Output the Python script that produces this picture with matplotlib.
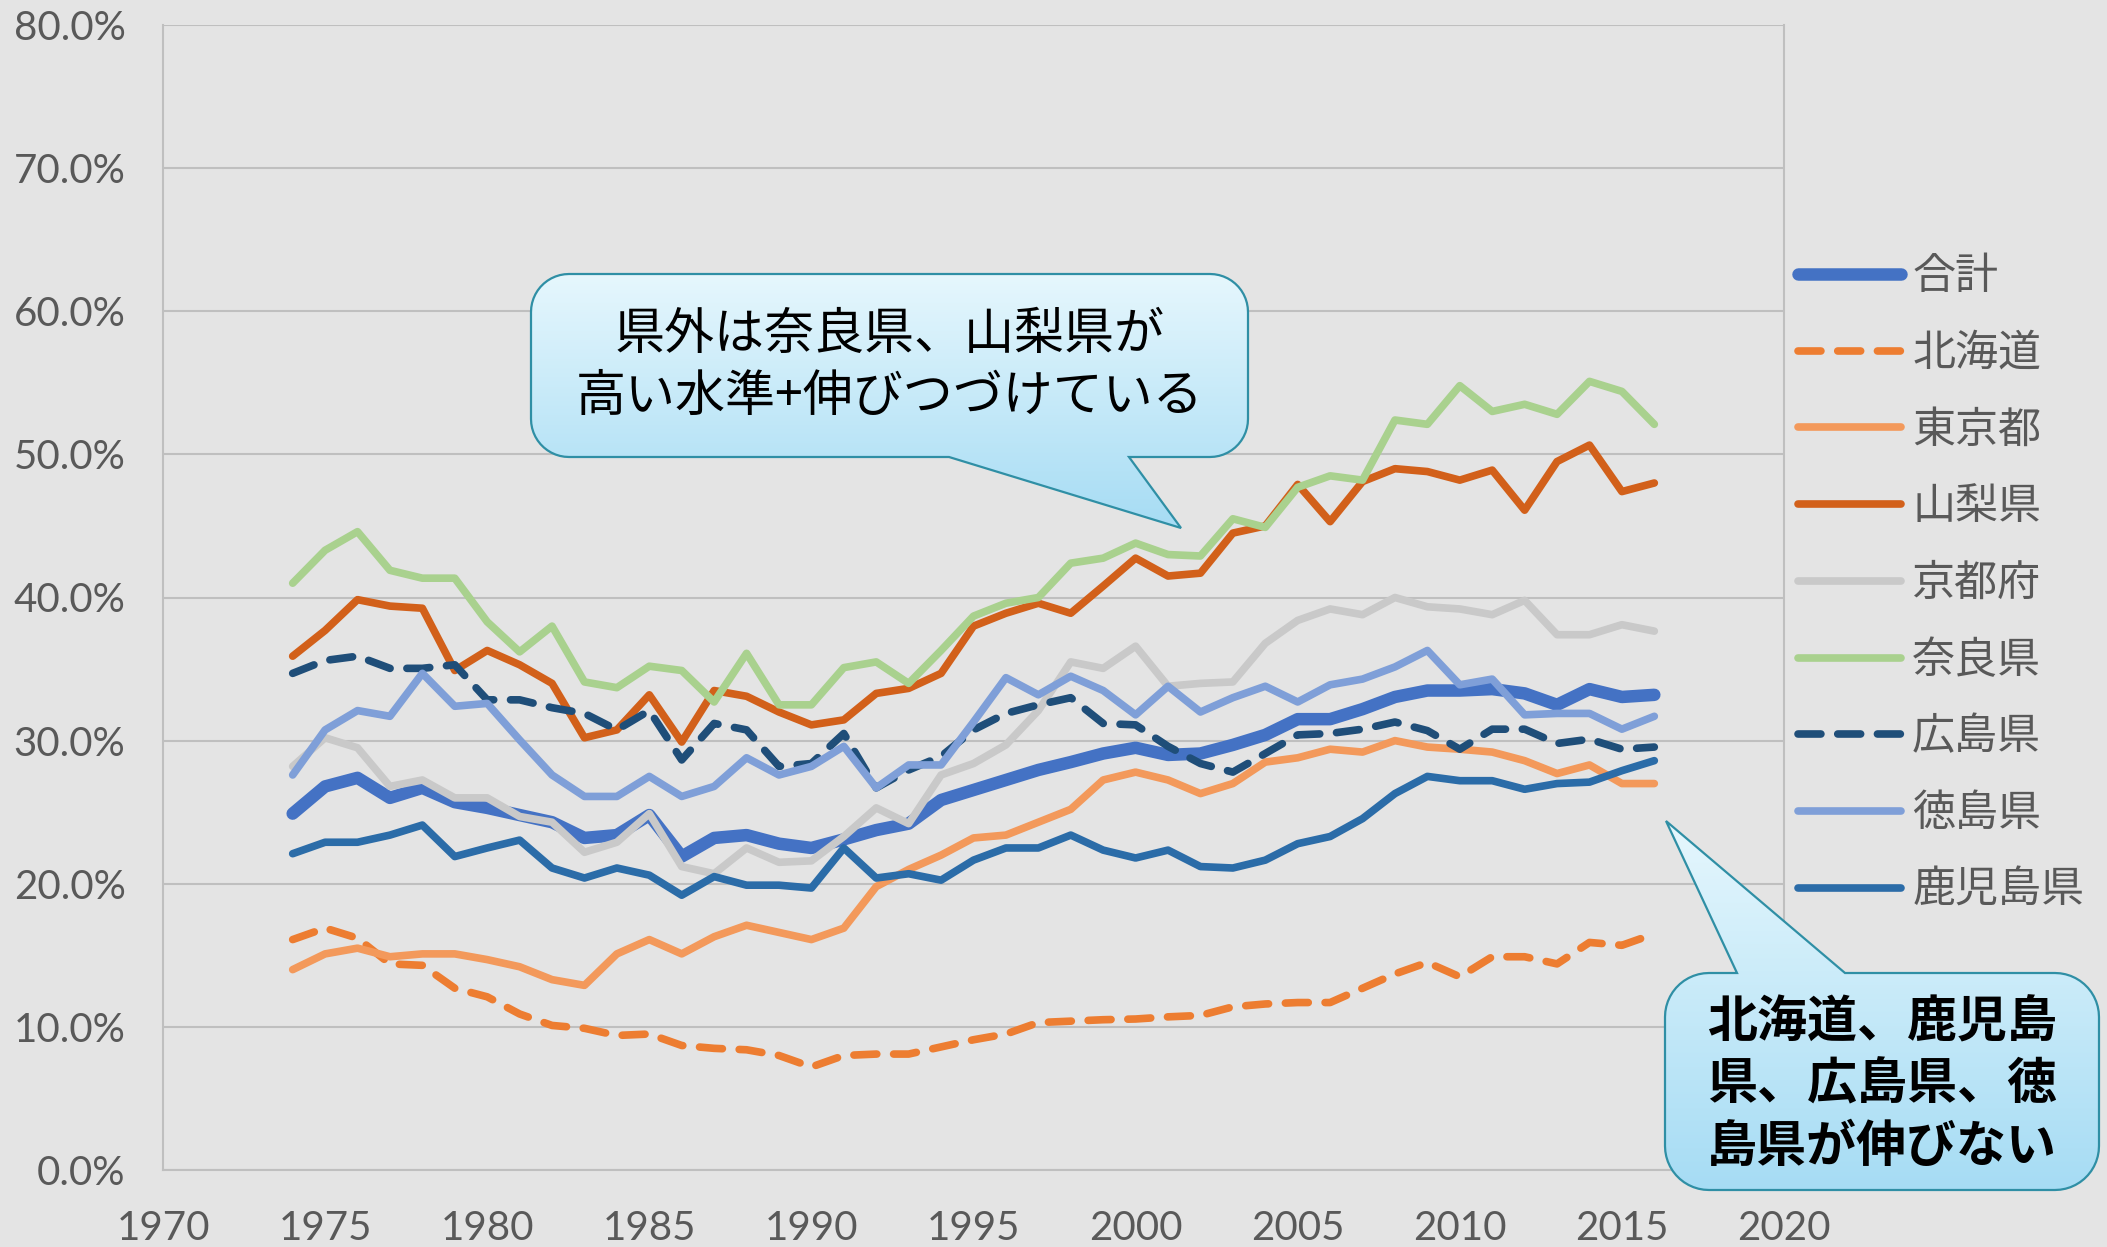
import numpy as np
import matplotlib
matplotlib.use("Agg")
import matplotlib.pyplot as plt
from matplotlib.patches import Polygon
from matplotlib.colors import LinearSegmentedColormap
from matplotlib.ticker import MultipleLocator, FuncFormatter

plt.rcParams['font.family'] = ['Lato', 'Noto Sans CJK JP', 'DejaVu Sans']

# ---- data (share, %) 1974-2016 ----
years = list(range(1974, 2017))

total = [24.9, 26.8, 27.4, 26.0, 26.7, 25.7, 25.3, 24.8, 24.3, 23.2, 23.4, 24.8, 21.9, 23.2, 23.4, 22.8, 22.5,
         23.1, 23.75, 24.2, 25.85, 26.55, 27.25, 27.95, 28.5, 29.1, 29.5, 29.0, 29.1, 29.7, 30.4,
         31.5, 31.5, 32.2, 33.05, 33.5, 33.5, 33.6, 33.3, 32.5, 33.6, 33.05, 33.2]
hokkaido = [16.1, 16.9, 16.2, 14.4, 14.3, 12.7, 12.1, 10.9, 10.1, 9.9, 9.4, 9.5, 8.7, 8.5, 8.4, 8.0, 7.2,
            8.0, 8.1, 8.1, 8.6, 9.1, 9.5, 10.3, 10.4, 10.5, 10.55, 10.7, 10.8, 11.4, 11.6,
            11.7, 11.7, 12.7, 13.7, 14.5, 13.5, 14.9, 14.9, 14.4, 15.9, 15.7, 16.5]
tokyo = [14.0, 15.1, 15.5, 14.9, 15.1, 15.1, 14.7, 14.2, 13.3, 12.9, 15.1, 16.1, 15.1, 16.3, 17.1, 16.6, 16.1,
         16.9, 19.8, 21.0, 22.0, 23.2, 23.4, 24.3, 25.2, 27.25, 27.8, 27.25, 26.3, 27.0, 28.5,
         28.8, 29.4, 29.2, 30.0, 29.55, 29.4, 29.2, 28.6, 27.7, 28.3, 27.0, 27.0]
yamanashi = [35.9, 37.7, 39.85, 39.4, 39.25, 34.9, 36.3, 35.3, 34.0, 30.2, 30.75, 33.2, 29.9, 33.5, 33.1, 32.0, 31.1,
             31.45, 33.3, 33.65, 34.7, 38.0, 38.9, 39.6, 38.9, 40.8, 42.75, 41.5, 41.7, 44.5, 45.0,
             47.9, 45.3, 48.1, 49.0, 48.8, 48.2, 48.9, 46.1, 49.5, 50.65, 47.4, 48.0]
kyoto = [28.2, 30.2, 29.5, 26.8, 27.25, 26.0, 26.0, 24.7, 24.3, 22.2, 22.9, 24.9, 21.2, 20.7, 22.5, 21.5, 21.6,
         23.3, 25.3, 24.2, 27.6, 28.4, 29.7, 32.1, 35.5, 35.05, 36.6, 33.8, 34.0, 34.1, 36.8,
         38.4, 39.2, 38.8, 40.0, 39.35, 39.2, 38.8, 39.8, 37.4, 37.4, 38.1, 37.65]
nara = [41.0, 43.3, 44.6, 41.9, 41.35, 41.35, 38.3, 36.2, 38.0, 34.1, 33.7, 35.2, 34.9, 32.7, 36.1, 32.5, 32.5,
        35.1, 35.5, 34.0, 36.3, 38.7, 39.6, 40.0, 42.4, 42.75, 43.8, 43.0, 42.9, 45.5, 44.9,
        47.7, 48.5, 48.2, 52.4, 52.1, 54.8, 53.0, 53.5, 52.8, 55.1, 54.4, 52.1]
hiroshima = [34.7, 35.6, 35.9, 35.05, 35.05, 35.3, 32.85, 32.85, 32.3, 31.9, 30.75, 32.1, 28.65, 31.2, 30.75, 28.2, 28.4,
             30.5, 26.7, 27.95, 28.9, 30.75, 31.9, 32.5, 33.0, 31.2, 31.1, 29.6, 28.4, 27.8, 29.1,
             30.4, 30.5, 30.8, 31.3, 30.7, 29.4, 30.8, 30.8, 29.8, 30.1, 29.4, 29.55]
tokushima = [27.6, 30.75, 32.1, 31.7, 34.7, 32.4, 32.6, 30.05, 27.6, 26.1, 26.1, 27.5, 26.1, 26.8, 28.8, 27.6, 28.2,
             29.6, 26.7, 28.3, 28.3, 31.3, 34.4, 33.2, 34.5, 33.5, 31.8, 33.8, 32.0, 33.0, 33.8,
             32.7, 33.9, 34.3, 35.15, 36.3, 33.9, 34.3, 31.8, 31.9, 31.9, 30.8, 31.7]
kagoshima = [22.1, 22.9, 22.9, 23.4, 24.1, 21.9, 22.5, 23.05, 21.1, 20.4, 21.1, 20.6, 19.2, 20.5, 19.9, 19.9, 19.7,
             22.5, 20.4, 20.7, 20.25, 21.65, 22.5, 22.5, 23.4, 22.35, 21.8, 22.35, 21.2, 21.1, 21.65,
             22.8, 23.3, 24.55, 26.3, 27.5, 27.2, 27.2, 26.6, 27.0, 27.1, 27.9, 28.6]

labels = ["合計", "北海道", "東京都", "山梨県", "京都府", "奈良県", "広島県", "徳島県", "鹿児島県"]
series = [total, hokkaido, tokyo, yamanashi, kyoto, nara, hiroshima, tokushima, kagoshima]
colors = ["#4472c4", "#ed7d31", "#f3995b", "#d2601a", "#c9c9c9", "#a9d18e", "#1f4e79", "#7f9fd8", "#2b6ca8"]
dashed = [False, True, False, False, False, False, True, False, False]
widths = [9.0, 5.5, 5.5, 5.5, 5.5, 5.5, 5.5, 5.5, 5.5]

note1 = ["県外は奈良県、山梨県が", "高い水準+伸びつづけている"]
note2 = ["北海道、鹿児島", "県、広島県、徳", "島県が伸びない"]

W, H = 2107, 1247
BG = "#e4e4e4"
TXT = "#595959"

fig = plt.figure(figsize=(W / 100, H / 100), dpi=100)
fig.patch.set_facecolor(BG)

ax = fig.add_axes([163 / W, 1 - 1170 / H, (1784 - 163) / W, (1170 - 25) / H])
ax.set_facecolor(BG)

lines = []
for vals, lab, col, d, lw in zip(series, labels, colors, dashed, widths):
    ln, = ax.plot(years, vals, color=col, lw=lw, label=lab,
                  solid_capstyle="round", dash_capstyle="round", solid_joinstyle="round")
    if d:
        ln.set_dashes((3.0, 2.2))
    lines.append(ln)

ax.set_xlim(1970, 2020)
ax.set_ylim(0, 80)
ax.xaxis.set_major_locator(MultipleLocator(5))
ax.yaxis.set_major_locator(MultipleLocator(10))
ax.yaxis.set_major_formatter(FuncFormatter(lambda v, p: f"{v:.1f}%"))
ax.tick_params(axis="both", length=0, labelsize=29, labelcolor=TXT)
ax.tick_params(axis="y", pad=27)
ax.tick_params(axis="x", pad=29)
ax.grid(axis="y", color="#bfbfbf", lw=1.5)
ax.set_axisbelow(True)
for side in ["left", "bottom", "right"]:
    ax.spines[side].set_color("#bfbfbf")
    ax.spines[side].set_linewidth(1.5)
ax.spines["top"].set_visible(False)

leg = fig.legend(handles=lines, loc="upper left", bbox_to_anchor=(1798 / W, 1 - 255 / H),
                 bbox_transform=fig.transFigure, frameon=False, borderpad=0, borderaxespad=0,
                 handlelength=2.4, handletextpad=0.25, labelspacing=0.76,
                 prop={"family": "Noto Sans CJK JP", "size": 31})
for t in leg.get_texts():
    t.set_color(TXT)

# ---- callouts drawn in pixel space ----
ov = fig.add_axes([0, 0, 1, 1])
ov.set_xlim(0, W)
ov.set_ylim(H, 0)
ov.axis("off")

blue_grad = LinearSegmentedColormap.from_list("callout", ["#e6f7fd", "#a6dcf4"])


def callout(x0, y0, x1, y1, r, base, tip, edge, text_lines, line_y, weight):
    pts = []

    def arc(cx, cy, a0, a1):
        for t in np.linspace(a0, a1, 14):
            pts.append((cx + r * np.cos(t), cy + r * np.sin(t)))

    arc(x0 + r, y0 + r, np.pi, 1.5 * np.pi)
    if edge == "top":
        pts.extend([(base[0], y0), tip, (base[1], y0)])
    arc(x1 - r, y0 + r, 1.5 * np.pi, 2 * np.pi)
    arc(x1 - r, y1 - r, 0, 0.5 * np.pi)
    if edge == "bottom":
        pts.extend([(base[1], y1), tip, (base[0], y1)])
    arc(x0 + r, y1 - r, 0.5 * np.pi, np.pi)

    poly = Polygon(pts, closed=True, facecolor="none", edgecolor="#2f8fa5", lw=1.6, zorder=3)
    ov.add_patch(poly)
    xs = [p[0] for p in pts]
    ys = [p[1] for p in pts]
    grad = np.linspace(0, 1, 256).reshape(-1, 1)
    im = ov.imshow(grad, extent=(min(xs), max(xs), max(ys), min(ys)), origin="upper",
                   aspect="auto", cmap=blue_grad, zorder=2)
    im.set_clip_path(poly)
    cx = (x0 + x1) / 2
    for s, yy in zip(text_lines, line_y):
        ov.text(cx, yy, s, ha="center", va="center", fontsize=36, color="black",
                family="Noto Sans CJK JP", weight=weight, zorder=4)


callout(531, 274, 1248, 457, 38, (949, 1129), (1181, 528), "bottom", note1, [335, 397], "normal")
callout(1665, 973, 2099, 1190, 44, (1737, 1845), (1666, 821), "top", note2, [1023, 1085, 1147], "bold")

ov.set_xlim(0, W)
ov.set_ylim(H, 0)

fig.savefig("out.png", dpi=100, facecolor=BG)
